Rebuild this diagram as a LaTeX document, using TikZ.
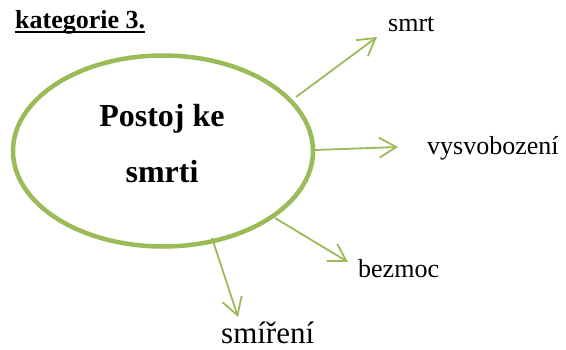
\documentclass[tikz,border=0pt]{standalone}
\usepackage{fontspec}
\setmainfont{Liberation Serif}
\usetikzlibrary{shapes.geometric,arrows.meta}
\definecolor{grn}{HTML}{9BBB59}
\newcommand\myul[1]{\setbox0\hbox{#1}\rlap{\rule[-5pt]{\wd0}{1.8pt}}\box0}
\begin{document}
\begin{tikzpicture}[x=1pt,y=-1pt,
  lbl/.style={anchor=base west,inner sep=0pt,font=\fontsize{26}{30}\selectfont},
  ctr/.style={anchor=base,inner sep=0pt,font=\bfseries\fontsize{32}{38}\selectfont},
  conn/.style={draw=grn,line width=1.8pt,-{Straight Barb[length=17pt,width=20pt,line width=1.8pt]}}]
\useasboundingbox (0,0) rectangle (566,349);
\node[lbl,font=\bfseries\fontsize{26}{30}\selectfont] (title) at (15,28) {\myul{kategorie 3.}};
\node[draw=grn,line width=4.5pt,ellipse,minimum width=300pt,minimum height=191pt,inner sep=0pt] (ell) at (163,151) {};
\node[ctr] (c1) at (162,126) {Postoj ke};
\node[ctr] (c2) at (162,182) {smrti};
\node[lbl] (smrt) at (388,31) {smrt};
\node[lbl] (vys) at (427,154) {vysvobození};
\node[lbl] (bez) at (358,277) {bezmoc};
\node[lbl,font=\fontsize{31}{36}\selectfont] (smi) at (221,343) {smíření};
\coordinate (s1) at (296,97);
\coordinate (e1) at (377,37);
\coordinate (s2) at (315,150);
\coordinate (e2) at (398,147);
\coordinate (s3) at (275,218);
\coordinate (e3) at (348,262);
\coordinate (s4) at (212,238);
\coordinate (e4) at (238,317);
\draw[conn] (s1) -- (e1);
\draw[conn] (s2) -- (e2);
\draw[conn] (s3) -- (e3);
\draw[conn] (s4) -- (e4);
\end{tikzpicture}
\end{document}
